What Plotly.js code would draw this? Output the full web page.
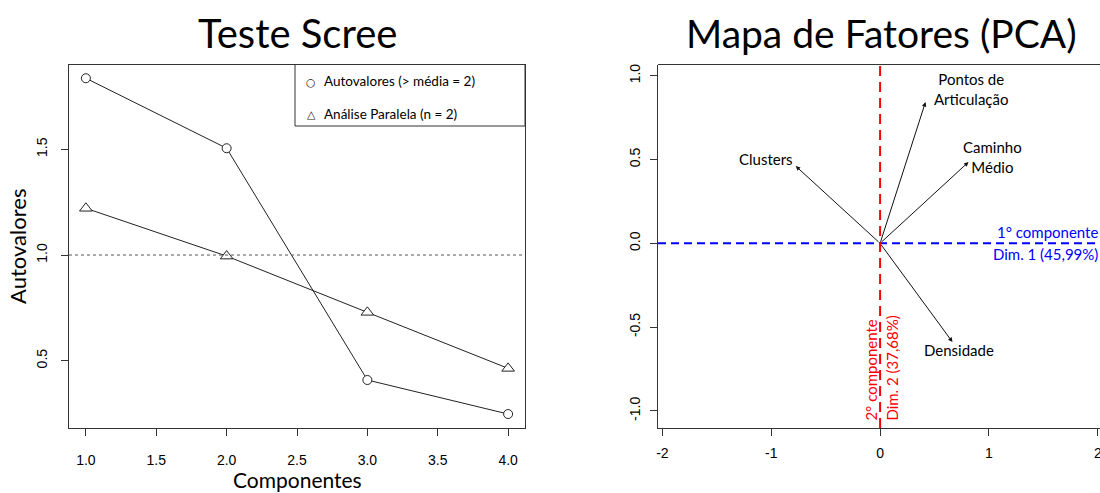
<!DOCTYPE html>
<html>
<head>
<meta charset="utf-8">
<script src="https://cdn.plot.ly/plotly-3.0.1.min.js"></script>
<style>html,body{margin:0;padding:0;background:#fff}#chart{width:1100px;height:493px}</style>
</head>
<body>
<div id="chart"></div>
<script>
// ---- data ----
var componentes = [1, 2, 3, 4];
var autovalores = [1.836, 1.505, 0.409, 0.248];
var analiseParalela = [1.221, 0.995, 0.729, 0.464];
var kaiserLimite = 1.0;
var legendaScree = ['Autovalores (> média = 2)', 'Análise Paralela (n = 2)'];
var xTicksScree = [1.0, 1.5, 2.0, 2.5, 3.0, 3.5, 4.0];
var yTicksScree = [0.5, 1.0, 1.5];

var variaveis = ['Pontos de<br>Articulação', 'Caminho<br>Médio', 'Clusters', 'Densidade'];
var dim1 = [0.417, 0.812, -0.775, 0.665];
var dim2 = [0.843, 0.485, 0.461, -0.589];
var dim1Label = ['1° componente', 'Dim. 1 (45,99%)'];
var dim2Label = ['2° componente', 'Dim. 2 (37,68%)'];
var xTicksPCA = [-2, -1, 0, 1, 2];
var yTicksPCA = [-1.0, -0.5, 0.0, 0.5, 1.0];

// ---- styles ----
var TXT = 'Lato, "Open Sans", sans-serif';
var TICK = '"Liberation Sans", Arial, sans-serif';
var yDom = [1 - 428 / 493, 1 - 64.5 / 493];
var labelShift = [[46, 13], [24, 5], [-30, 7], [7, -8]];

var traces = [
  {x: componentes, y: autovalores, xaxis: 'x', yaxis: 'y', mode: 'lines+markers', showlegend: false,
   line: {color: '#222', width: 1}, marker: {symbol: 'circle', size: 9, color: '#fff', line: {color: '#222', width: 1}}},
  {x: componentes, y: analiseParalela, xaxis: 'x', yaxis: 'y', mode: 'lines+markers', showlegend: false,
   line: {color: '#222', width: 1}, marker: {symbol: 'triangle-up', size: 11, color: '#fff', line: {color: '#222', width: 1}}}
];

var axisBase = {showgrid: false, zeroline: false, showline: true, linecolor: '#333', linewidth: 1,
  ticks: 'outside', ticklen: 7, tickcolor: '#333', tickfont: {family: TICK, size: 14, color: '#000'}};

var layout = {
  width: 1100, height: 493, margin: {l: 0, r: 0, t: 0, b: 0},
  paper_bgcolor: '#fff', plot_bgcolor: '#fff', showlegend: false,
  xaxis: Object.assign({}, axisBase, {domain: [69 / 1100, 525 / 1100], range: [0.88, 4.12], anchor: 'y',
    tickvals: xTicksScree, tickformat: '.1f', mirror: true, ticklabelstandoff: 12}),
  yaxis: Object.assign({}, axisBase, {domain: yDom, range: [0.182, 1.901], anchor: 'x',
    tickvals: yTicksScree, tickformat: '.1f', tickangle: -90, mirror: true, ticklabelstandoff: 8,
    title: {text: 'Autovalores', font: {family: TXT, size: 22, color: '#000'}, standoff: 1}}),
  xaxis2: Object.assign({}, axisBase, {domain: [658 / 1100, 1], range: [-2.04, 2.02], anchor: 'y2',
    tickvals: xTicksPCA, ticktext: xTicksPCA.map(function (v) { return String(v); }),
    ticklabelstandoff: 5, ticklabeloverflow: 'allow'}),
  yaxis2: Object.assign({}, axisBase, {domain: yDom, range: [-1.102, 1.067], anchor: 'x2',
    tickvals: yTicksPCA, ticktext: yTicksPCA.map(function (v) { return v.toFixed(1); }),
    tickangle: -90, ticklabelstandoff: 4}),
  shapes: [
    {type: 'line', xref: 'x domain', yref: 'y', x0: 0, x1: 1, y0: kaiserLimite, y1: kaiserLimite,
     line: {color: '#555', width: 1, dash: '3px,3px'}},
    {type: 'rect', xref: 'paper', yref: 'paper', x0: 295 / 1100, x1: 525 / 1100, y0: 1 - 126 / 493, y1: yDom[1],
     line: {color: '#333', width: 1}, fillcolor: 'rgba(255,255,255,1)'},
    {type: 'line', xref: 'x2 domain', yref: 'y2 domain', x0: 0, x1: 1, y0: 1, y1: 1, line: {color: '#333', width: 1}},
    {type: 'line', xref: 'x2 domain', yref: 'y2', x0: 0, x1: 1, y0: 0, y1: 0, line: {color: '#0000ff', width: 2, dash: '8px,5px'}},
    {type: 'line', xref: 'x2', yref: 'y2 domain', x0: 0, x1: 0, y0: 0, y1: 1, line: {color: '#ff0000', width: 2, dash: '10px,6px'}}
  ],
  annotations: [
    {text: 'Teste Scree', xref: 'x domain', yref: 'paper', x: 0.5, y: 1 - 33 / 493, showarrow: false,
     xanchor: 'center', yanchor: 'middle', font: {family: TXT, size: 40, color: '#000'}},
    {text: 'Mapa de Fatores (PCA)', xref: 'paper', yref: 'paper', x: 881 / 1100, y: 1 - 33 / 493, showarrow: false,
     xanchor: 'center', yanchor: 'middle', font: {family: TXT, size: 39, color: '#000'}},
    {text: 'Componentes', xref: 'x domain', yref: 'paper', x: 0.5, y: 0, yshift: -1, showarrow: false,
     xanchor: 'center', yanchor: 'bottom', font: {family: TXT, size: 21, color: '#000'}},
    {text: '○', xref: 'paper', yref: 'paper', x: 311 / 1100, y: 1 - 82 / 493, showarrow: false, xanchor: 'center', yanchor: 'middle',
     font: {family: 'DejaVu Sans', size: 11, color: '#222'}},
    {text: '△', xref: 'paper', yref: 'paper', x: 311 / 1100, y: 1 - 114 / 493, showarrow: false, xanchor: 'center', yanchor: 'middle',
     font: {family: 'DejaVu Sans', size: 11, color: '#222'}},
    {text: legendaScree[0], xref: 'paper', yref: 'paper', x: 322 / 1100, y: 1 - 81 / 493, showarrow: false, xanchor: 'left', yanchor: 'middle',
     font: {family: TXT, size: 13.5, color: '#000'}},
    {text: legendaScree[1], xref: 'paper', yref: 'paper', x: 322 / 1100, y: 1 - 114 / 493, showarrow: false, xanchor: 'left', yanchor: 'middle',
     font: {family: TXT, size: 13.5, color: '#000'}},
    {text: dim1Label[0], xref: 'paper', yref: 'y2', x: 1, y: 0, yshift: 0, showarrow: false, xanchor: 'right', yanchor: 'bottom',
     font: {family: TXT, size: 15, color: '#0000ff'}},
    {text: dim1Label[1], xref: 'paper', yref: 'y2', x: 1, y: 0, yshift: 0, showarrow: false, xanchor: 'right', yanchor: 'top',
     font: {family: TXT, size: 15, color: '#0000ff'}},
    {text: dim2Label[0], xref: 'x2', yref: 'y2 domain', x: 0, y: 0, xshift: -10, yshift: 5, textangle: -90, showarrow: false,
     xanchor: 'center', yanchor: 'bottom', font: {family: TXT, size: 15, color: '#ff0000'}},
    {text: dim2Label[1], xref: 'x2', yref: 'y2 domain', x: 0, y: 0, xshift: 11, yshift: 5, textangle: -90, showarrow: false,
     xanchor: 'center', yanchor: 'bottom', font: {family: TXT, size: 15, color: '#ff0000'}}
  ]
};

for (var i = 0; i < variaveis.length; i++) {
  layout.annotations.push({x: dim1[i], y: dim2[i], xref: 'x2', yref: 'y2', ax: 0, ay: 0, axref: 'x2', ayref: 'y2',
    text: '', showarrow: true, arrowhead: 2, arrowsize: 0.9, arrowwidth: 1, arrowcolor: '#111', standoff: 0, startstandoff: 0});
  layout.annotations.push({x: dim1[i], y: dim2[i], xref: 'x2', yref: 'y2', text: variaveis[i], showarrow: false,
    xshift: labelShift[i][0], yshift: labelShift[i][1], xanchor: 'center', yanchor: 'middle',
    font: {family: TXT, size: 15, color: '#000'}});
}

Plotly.newPlot('chart', traces, layout, {displayModeBar: false, staticPlot: true});
</script>
</body>
</html>
